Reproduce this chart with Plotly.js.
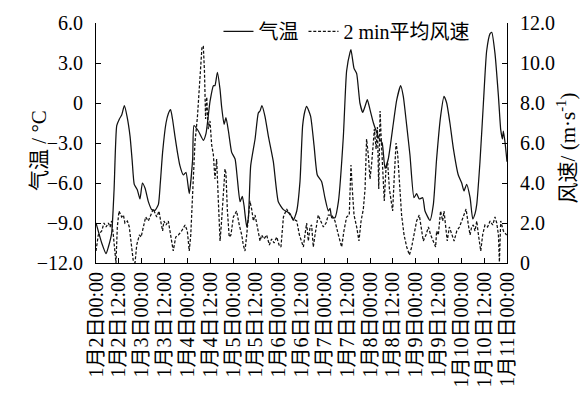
<!DOCTYPE html>
<html><head><meta charset="utf-8">
<script src="https://cdn.plot.ly/plotly-3.0.1.min.js"></script>
<style>html,body{margin:0;padding:0;background:#fff}#chart{width:588px;height:395px}</style>
</head><body><div id="chart"></div>
<script>
// hours since 1月2日00:00
const tempHours = [0,3,5.3,6.5,8.2,9.5,10.9,12.3,13.5,14.9,16.3,17.9,19.0,20.1,21.7,23.1,24.4,25.8,27.5,29.3,31.0,32.8,33.8,35.0,36.8,38.0,39.2,40.2,41.5,42.8,44.1,45.9,47.3,49.0,50.8,51.5,53.8,56.4,57.8,59.9,61.7,62.5,63.8,65.2,66.0,67.3,68.3,69.6,71.3,73.1,74.3,75.7,76.9,77.8,79.2,80.1,81.3,83.6,85.3,86.2,87.2,88.8,90.6,93.2,95.8,98.5,101.0,102.0,103.7,105.5,107.2,108.6,109.8,110.7,112.8,114.6,116.3,118.6,120.3,122.1,123.0,123.9,125.6,127.4,130.0,131.7,133.5,134.0,135.6,137.0,138.7,140.2,141.4,142.6,144.0,145.8,147.5,148.9,150.4,151.9,153.6,156.3,158.0,160.1,161.5,163.3,165.0,167.1,168.5,169.9,171.7,172.9,175.5,177.3,179.0,181.1,182.9,184.3,186.0,187.8,190.4,192.2,193.4,194.8,196.6,198.0,199.2,200.1,201.8,203.6,205.3,207.1,208.0,209.7,211.5,212.7,213.6,214.1,215.0,216.0];
const tempValues = [-9.0,-10.5,-11.3,-10.8,-9.8,-6.5,-1.7,-1.2,-0.9,-0.2,-1.0,-2.5,-4.3,-6.1,-6.5,-7.2,-6.0,-6.4,-7.4,-8.0,-8.05,-7.6,-6.0,-3.7,-1.5,-0.8,-0.5,-1.2,-2.5,-3.7,-4.7,-5.4,-5.2,-6.8,-4.2,-1.7,-2.1,-2.8,-2.3,0.1,1.3,1.3,2.3,1.0,-0.25,-1.6,-1.1,-2.1,-3.7,-4.2,-5.7,-7.4,-7.0,-7.7,-9.3,-8.6,-4.7,-2.7,-0.75,-0.6,-0.2,-1.0,-2.5,-4.4,-7.4,-8.0,-8.2,-8.3,-8.8,-8.1,-5.9,-1.7,-0.6,-0.25,-1.0,-3.2,-5.4,-5.9,-7.1,-8.1,-7.9,-8.6,-8.6,-7.4,-2.5,2.4,3.8,4.0,2.6,2.2,0.0,-0.7,-0.25,0.25,-0.5,-1.5,-2.2,-2.7,-3.0,-4.9,-4.2,-1.5,0.2,1.3,0.5,-1.7,-3.9,-7.1,-6.8,-7.2,-7.1,-8.1,-8.8,-7.6,-4.2,-1.0,0.5,0.0,-1.5,-3.4,-5.4,-6.0,-6.6,-6.1,-7.1,-8.7,-8.3,-7.6,-4.4,0.0,3.9,5.2,5.3,3.7,0.5,-2.0,-2.7,-2.1,-3.0,-4.4];

const windHours = [0,1.2,3,4.2,5.3,6.5,7.4,8.2,9.1,10,10.5,11.2,12.1,13.5,14.4,15.2,16.5,17.5,18.7,19.6,20.5,21.4,22.8,23.7,24.9,26.1,27.5,28.7,30.1,31.9,33.1,34,35,35.7,36.8,38,39.2,40.6,41.9,43.3,45,46.8,48,49,49.8,50.8,52,53.3,54.7,55.7,56.4,57,57.6,58.2,59,59.9,60.8,61.7,62.5,63.4,64.3,65.2,66,66.9,67.8,68.3,69,70,70.9,72.2,73.9,75.3,76.6,77.4,78.3,79.2,80.1,80.9,81.8,82.7,83.6,84.8,86.2,87.1,88.3,89.7,91.1,92.3,93.6,95,96.2,97.2,98.5,100.2,102,103.7,105.5,106.9,108.1,109,109.8,110.7,111.6,112.5,113.3,114.2,115.1,116.8,118.1,119.5,120.9,122.1,123.9,125.6,127.4,129.1,130.3,131.7,133.1,134,134.7,135.6,137,138.2,139.3,140.5,141.4,142.2,143.1,144,144.9,145.8,146.3,147.2,147.9,148.6,149.3,149.8,150.5,151,151.5,152.4,153.3,154.2,155,155.9,156.8,157.7,158.5,159.4,160.6,161.9,163.3,164.7,165.9,167.1,168.5,169.9,171.2,172,173.4,174.7,175.9,177.3,178.5,179,179.9,181.1,182.2,182.9,183.8,184.6,185.7,186.9,188.2,189.6,191,192.2,193.4,194.5,195.7,196.6,197.4,198.3,199.2,200.1,201,202.2,203.2,204.4,205.8,207.1,208.5,209.7,210.6,211.5,212,212.7,214.1,215.8];
const windValues = [0.6,1.4,1.6,2.0,1.8,2.0,1.8,2.1,1.4,0.3,0.0,1.8,2.6,2.3,2.4,2.0,2.1,1.8,0.8,0.1,0.0,0.9,1.4,1.3,1.8,2.3,2.1,2.4,2.7,2.3,2.6,2.1,1.6,2.1,1.9,2.1,1.4,0.6,1.3,1.4,1.6,1.9,1.6,0.6,1.4,3.7,6.0,7.3,9.3,10.8,10.85,9.6,7.2,8.3,6.7,7.1,5.9,5.4,4.2,5.2,3.1,1.1,2.1,3.7,4.7,4.5,2.7,1.3,1.4,2.3,2.6,1.9,1.4,0.9,0.6,1.4,2.4,3.1,2.7,2.1,2.4,1.8,1.1,1.4,1.2,1.4,0.9,1.2,1.0,1.3,0.9,0.8,2.3,2.7,2.4,2.2,2.1,1.4,1.1,0.8,1.4,2.0,1.1,1.8,1.9,0.8,1.4,2.4,2.1,1.8,2.0,2.4,2.4,2.1,1.4,0.8,1.6,2.3,2.4,4.9,3.7,2.4,1.8,1.1,2.1,2.7,3.7,6.2,5.4,4.2,5.0,6.4,6.7,5.7,6.8,3.7,7.6,6.4,5.2,4.1,3.1,4.7,5.0,3.7,3.1,2.6,4.4,6.0,5.5,4.1,2.4,1.4,0.8,0.4,0.8,1.4,2.1,2.4,1.6,1.1,1.4,1.8,1.4,1.1,0.8,1.6,1.4,2.6,2.1,2.6,1.6,1.1,1.8,1.4,1.1,1.6,1.8,2.1,2.4,2.7,1.9,1.4,1.8,1.9,1.6,2.1,1.4,0.6,1.4,1.9,1.8,2.1,1.9,2.3,2.0,1.4,0.05,2.1,1.6,1.4];

const xTickHours = [0,12,24,36,48,60,72,84,96,108,120,132,144,156,168,180,192,204,216];
const xTickLabels = ['1月2日00:00','1月2日12:00','1月3日00:00','1月3日12:00','1月4日00:00','1月4日12:00','1月5日00:00','1月5日12:00','1月6日00:00','1月6日12:00','1月7日00:00','1月7日12:00','1月8日00:00','1月8日12:00','1月9日00:00','1月9日12:00','1月10日00:00','1月10日12:00','1月11日00:00'];
const tempTickVals = [-12,-9,-6,-3,0,3,6];
const tempTickText = ['−12.0','−9.0','−6.0','−3.0','0','3.0','6.0'];
const windTickVals = [0,2,4,6,8,10,12];
const windTickText = ['0','2.0','4.0','6.0','8.0','10.0','12.0'];
const tempTitle = '气温 / °C';
const windTitle = '风速/ (m·s<sup>-1</sup>)';

const FONT = "Liberation Serif, Times New Roman, Noto Sans CJK SC, serif";

const traces = [
  {x: tempHours, y: tempValues, name: '气温', type: 'scatter', mode: 'lines',
   line: {color: '#111', width: 1.25, shape: 'spline', smoothing: 0.5}, yaxis: 'y'},
  {x: windHours, y: windValues, name: '2 min平均风速', type: 'scatter', mode: 'lines',
   line: {color: '#111', width: 1.25, dash: '3px,1.8px'}, yaxis: 'y2'}
];

const axisCommon = {showline: true, linecolor: '#000', linewidth: 1, showgrid: false, zeroline: false,
  ticks: 'inside', ticklen: 5, tickwidth: 1, tickcolor: '#000', tickfont: {family: FONT, size: 20, color: '#000'}};

const layout = {
  width: 588, height: 395,
  margin: {l: 96, r: 81, t: 18, b: 132, pad: 0},
  paper_bgcolor: '#fff', plot_bgcolor: '#fff',
  font: {family: FONT, size: 20, color: '#000'},
  showlegend: true,
  legend: {orientation: 'h', x: 0.298, y: 0.965, xanchor: 'left', yanchor: 'middle',
    bgcolor: 'rgba(0,0,0,0)', font: {family: FONT, size: 20, color: '#000'}, itemwidth: 30, tracegroupgap: 0},
  xaxis: Object.assign({}, axisCommon, {range: [0, 216], tickmode: 'array', tickvals: xTickHours, ticktext: xTickLabels,
    tickangle: -90, tickfont: {family: FONT, size: 20, color: '#000'}}),
  yaxis: Object.assign({}, axisCommon, {range: [-12, 6], tickmode: 'array', tickvals: tempTickVals, ticktext: tempTickText,
    ticklabelstandoff: 8}),
  yaxis2: Object.assign({}, axisCommon, {range: [0, 12], overlaying: 'y', side: 'right', tickmode: 'array',
    tickvals: windTickVals, ticktext: windTickText, ticklabelstandoff: 8}),
  annotations: [
    {text: tempTitle, xref: 'paper', yref: 'paper', x: -0.137, y: 0.47, xanchor: 'center', yanchor: 'middle',
     textangle: -90, showarrow: false, font: {family: FONT, size: 21, color: '#000'}},
    {text: windTitle, xref: 'paper', yref: 'paper', x: 1.145, y: 0.48, xanchor: 'center', yanchor: 'middle',
     textangle: -90, showarrow: false, font: {family: FONT, size: 21, color: '#000'}}
  ]
};

Plotly.newPlot('chart', traces, layout, {displayModeBar: false, staticPlot: true});
</script>
</body></html>
